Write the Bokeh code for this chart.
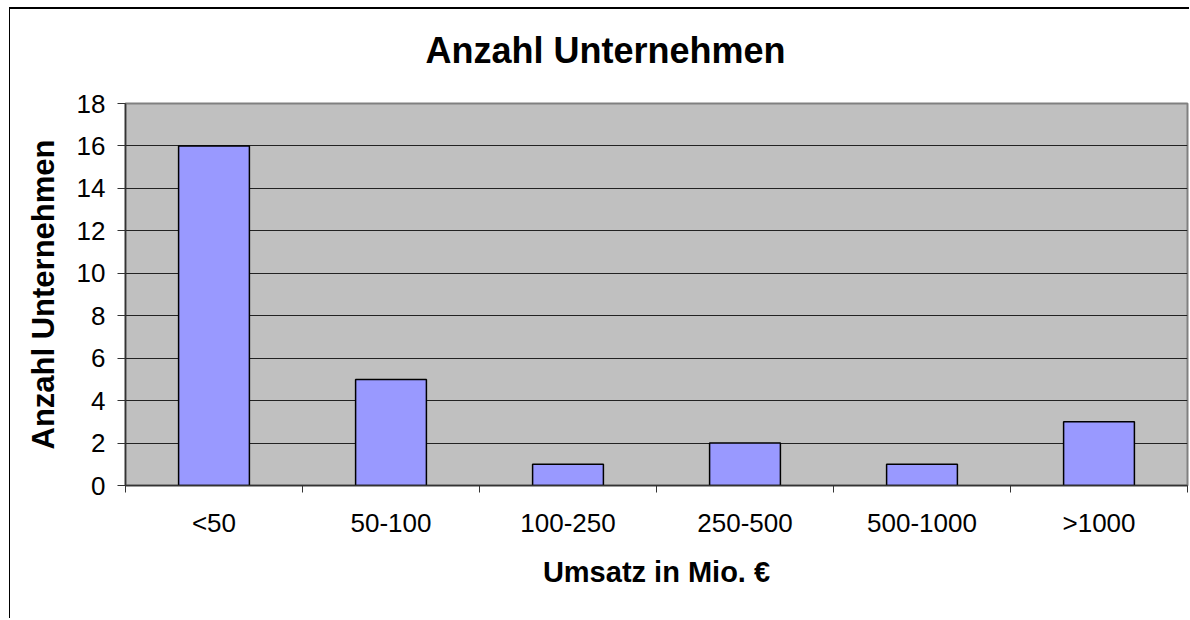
from bokeh.plotting import figure
from bokeh.models import FixedTicker, Range1d, Title
from bokeh.embed import file_html
from bokeh.resources import INLINE

categories = ["<50", "50-100", "100-250", "250-500", "500-1000", ">1000"]
counts = [16, 5, 1, 2, 1, 3]
y_ticks = [0, 2, 4, 6, 8, 10, 12, 14, 16, 18]

FONT = "Liberation Sans"

p = figure(width=1180, height=611, output_backend="svg", toolbar_location=None,
           x_range=Range1d(0, len(categories)), y_range=Range1d(0, 18),
           min_border_left=115, min_border_right=3, min_border_top=94, min_border_bottom=135)

p.styles = {"margin-left": "9px", "margin-top": "7px",
            "border-top": "2px solid black", "border-left": "1px solid black"}

p.title.text = "Anzahl Unternehmen"
p.title.text_font = FONT
p.title.text_font_style = "bold"
p.title.text_font_size = "36px"
p.title.text_color = "black"
p.title.align = "left"
p.title.offset = 300
p.title.standoff = 0

# empty spacer between the title and the plot area
spacer = Title(text=" ", text_font=FONT, text_font_size="10px", standoff=20)
p.add_layout(spacer, "above")

p.background_fill_color = "#C0C0C0"
p.border_fill_color = "white"
p.outline_line_color = "#808080"
p.outline_line_width = 2

xs = [i + 0.5 for i in range(len(categories))]
p.vbar(x=xs, top=counts, width=0.4, bottom=0, fill_color="#9999FF",
       line_color="black", line_width=1.5)

# axes
p.xaxis.ticker = FixedTicker(ticks=xs, minor_ticks=list(range(len(categories) + 1)))
p.xaxis.major_label_overrides = {x: c for x, c in zip(xs, categories)}
p.xaxis.major_tick_out = 0
p.xaxis.major_tick_in = 0
p.xaxis.minor_tick_out = 7
p.xaxis.minor_tick_in = 0
p.xaxis.minor_tick_line_color = "#333333"
p.xaxis.axis_line_color = "#333333"
p.xaxis.axis_line_width = 1.5
p.xaxis.major_label_text_font = FONT
p.xaxis.major_label_text_font_size = "26px"
p.xaxis.major_label_text_color = "black"
p.xaxis.major_label_standoff = 15
p.xaxis.axis_label = "Umsatz in Mio. €"
p.xaxis.axis_label_text_font = FONT
p.xaxis.axis_label_text_font_style = "bold"
p.xaxis.axis_label_text_font_size = "29px"
p.xaxis.axis_label_text_color = "black"
p.xaxis.axis_label_standoff = 15

p.yaxis.ticker = FixedTicker(ticks=y_ticks)
p.yaxis.major_tick_out = 8
p.yaxis.major_tick_in = 0
p.yaxis.minor_tick_out = 0
p.yaxis.minor_tick_in = 0
p.yaxis.major_tick_line_color = "#333333"
p.yaxis.axis_line_color = "#333333"
p.yaxis.axis_line_width = 1.5
p.yaxis.major_label_text_font = FONT
p.yaxis.major_label_text_font_size = "26px"
p.yaxis.major_label_text_color = "black"
p.yaxis.major_label_standoff = 12
p.yaxis.axis_label = "Anzahl Unternehmen"
p.yaxis.axis_label_text_font = FONT
p.yaxis.axis_label_text_font_style = "bold"
p.yaxis.axis_label_text_font_size = "31px"
p.yaxis.axis_label_text_color = "black"
p.yaxis.axis_label_standoff = 13

p.xgrid.grid_line_color = None
p.ygrid.ticker = FixedTicker(ticks=y_ticks)
p.ygrid.grid_line_color = "#222222"
p.ygrid.grid_line_width = 1

open("out.html", "w").write(file_html(p, INLINE))
